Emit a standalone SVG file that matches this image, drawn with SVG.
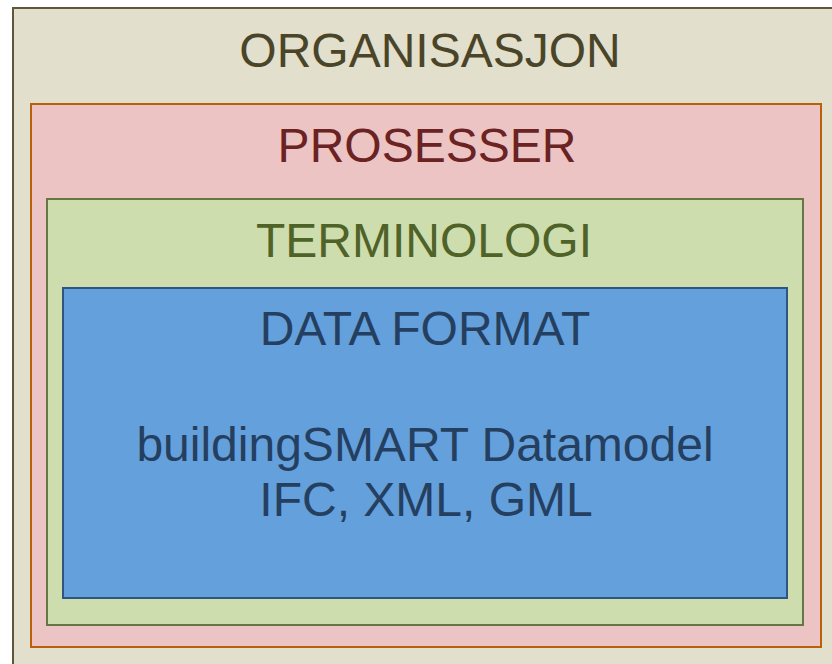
<svg xmlns="http://www.w3.org/2000/svg" width="832" height="664" viewBox="0 0 832 664">
<style>
text{font-family:"Liberation Sans",Arial,sans-serif;font-size:48px;text-anchor:middle}
</style>
<rect width="832" height="664" fill="#ffffff"/>
<g id="organisasjon">
<rect x="13" y="8" width="830" height="670" fill="#E2DFCC" stroke="#5C5839" stroke-width="2"/>
<text x="430" y="67" fill="#4A4529">ORGANISASJON</text>
</g>
<g id="prosesser">
<rect x="31" y="104" width="790" height="543" fill="#ECC4C4" stroke="#B8610A" stroke-width="2"/>
<text x="427" y="162" fill="#6B2222">PROSESSER</text>
</g>
<g id="terminologi">
<rect x="47" y="199" width="756" height="426" fill="#CEDDAD" stroke="#667744" stroke-width="2"/>
<text x="424" y="257" fill="#4F6228">TERMINOLOGI</text>
</g>
<g id="dataformat">
<rect x="63" y="288" width="724" height="310" fill="#64A0DC" stroke="#2E5680" stroke-width="2"/>
<text x="425" y="345" fill="#243F60">DATA FORMAT</text>
<text x="425" y="461" fill="#243F60">buildingSMART Datamodel</text>
<text x="426" y="516" fill="#243F60">IFC, XML, GML</text>
</g>
</svg>
